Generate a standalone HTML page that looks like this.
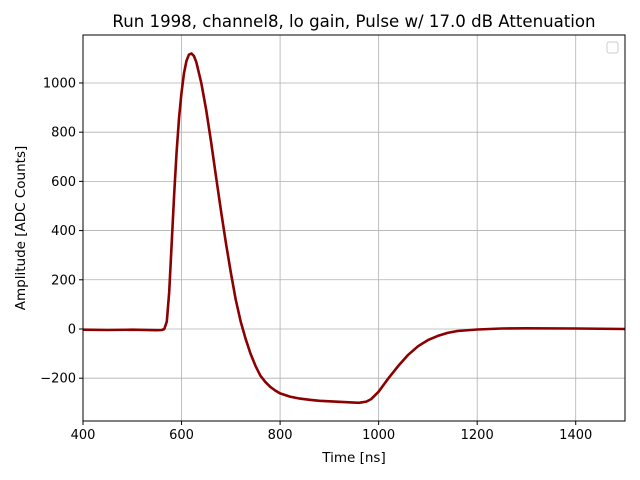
<!DOCTYPE html>
<html><head><meta charset="utf-8"><style>
body{margin:0;background:#fff;}
svg{display:block;font-family:"DejaVu Sans","Liberation Sans",sans-serif;}
</style></head><body>
<svg id="chart" width="640" height="480">
<rect width="640" height="480" fill="#fff"/>
<g id="grid"></g>
<g id="plot"></g>
<rect x="83" y="35" width="542" height="386" fill="none" stroke="#000" stroke-width="1"/>
<g id="ticks" font-size="13"></g>
<text x="354" y="27" text-anchor="middle" font-size="16.6">Run 1998, channel8, lo gain, Pulse w/ 17.0 dB Attenuation</text>
<text x="354" y="462" text-anchor="middle" font-size="13.5">Time [ns]</text>
<text transform="translate(25,228) rotate(-90)" text-anchor="middle" font-size="13.5">Amplitude [ADC Counts]</text>
<rect x="607" y="42" width="11" height="11" rx="2" fill="#fff" stroke="#ccc"/>
</svg>
<script>
const xTicks=[400,600,800,1000,1200,1400];
const yTicks=[-200,0,200,400,600,800,1000];
const times=[400,450,500,550,560,565,570,575,580,585,590,595,600,605,610,615,620,625,630,640,650,660,670,680,690,700,710,720,730,740,750,760,770,780,790,800,820,840,860,880,900,920,940,960,975,985,1000,1020,1040,1060,1080,1100,1120,1140,1160,1200,1250,1300,1400,1500];
const amps=[-3,-4,-3,-5,-4,0,30,150,350,550,720,860,960,1040,1090,1115,1120,1110,1085,1000,890,760,620,480,350,230,120,30,-40,-100,-150,-190,-215,-235,-250,-262,-275,-283,-288,-292,-294,-296,-298,-300,-295,-285,-255,-200,-150,-105,-70,-45,-28,-16,-8,-2,2,3,2,0];
const X0=83,X1=625,Y0=421,Y1=35,xmin=400,xmax=1500,ymin=-374,ymax=1195;
const sx=v=>X0+(v-xmin)/(xmax-xmin)*(X1-X0);
const sy=v=>Y0-(v-ymin)/(ymax-ymin)*(Y0-Y1);
const NS="http://www.w3.org/2000/svg";
const grid=document.getElementById('grid'),ticks=document.getElementById('ticks'),plot=document.getElementById('plot');
function mk(tag,attrs,parent){const e=document.createElementNS(NS,tag);for(const k in attrs)e.setAttribute(k,attrs[k]);parent.appendChild(e);return e;}
xTicks.forEach(t=>{const x=sx(t);
 const g=mk('line',{x1:x,x2:x,y1:Y1,y2:Y0,stroke:'#b0b0b0','stroke-width':0.8},grid);
 
 
 mk('line',{x1:x,x2:x,y1:Y0,y2:Y0+4,stroke:'#000'},ticks);
 const l=mk('text',{x:x,y:Y0+18,'text-anchor':'middle'},ticks);l.textContent=t;
 
 
});
yTicks.forEach(t=>{const y=sy(t);
 const g=mk('line',{x1:X0,x2:X1,y1:y,y2:y,stroke:'#b0b0b0','stroke-width':0.8},grid);
 
 
 mk('line',{x1:X0-4,x2:X0,y1:y,y2:y,stroke:'#000'},ticks);
 const l=mk('text',{x:X0-7,y:y+4.5,'text-anchor':'end'},ticks);l.textContent=(t<0?'\u2212'+(-t):t);
 
 
});
const d=times.map((t,i)=>(i?'L':'M')+sx(t).toFixed(1)+','+sy(amps[i]).toFixed(1)).join('');
const p=mk('path',{d:d,fill:'none',stroke:'#8b0000','stroke-width':2.6,'stroke-linejoin':'round'},plot);


</script>
</body></html>
